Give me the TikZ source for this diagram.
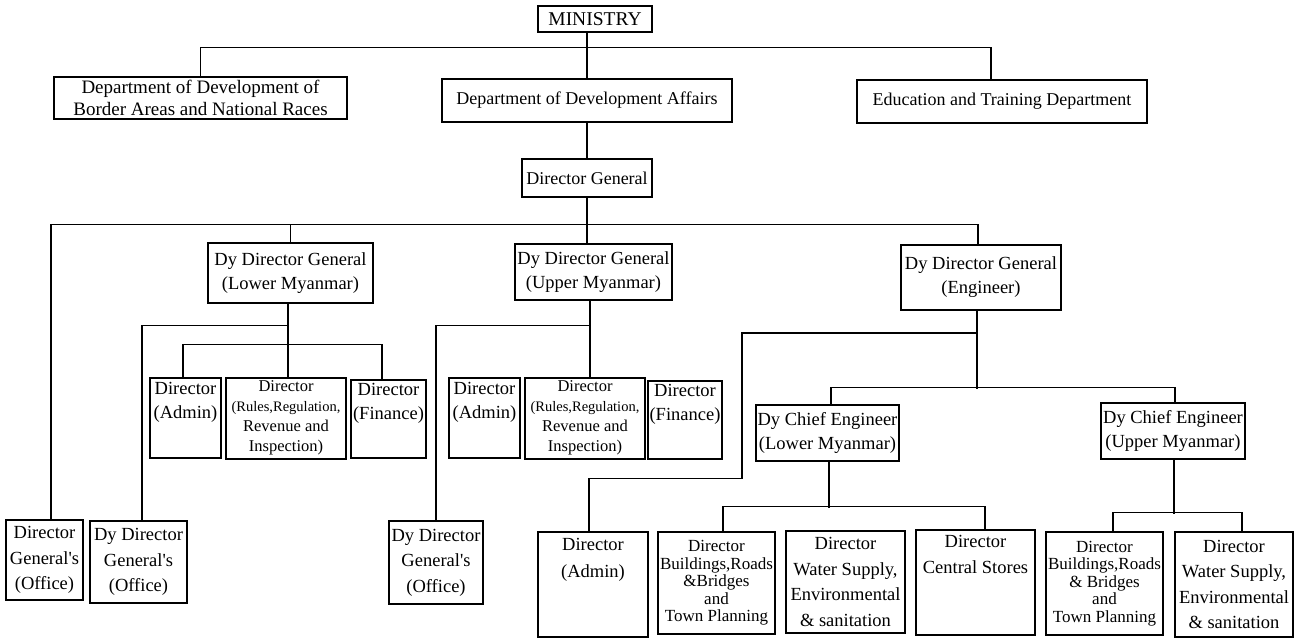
\documentclass[tikz,border=0pt]{standalone}
\usepackage{fontspec}
\setmainfont{Liberation Serif}
\usepackage{tikz}
\usetikzlibrary{calc}
\newcommand{\orgfont}{\fontsize{18.5}{24}\selectfont}
\newcommand{\apos}{\textquotesingle}

\begin{document}
\begin{tikzpicture}
    [
        x=1pt, y=-1pt,
        box/.style={rectangle,draw=black,line width=1.3pt,inner sep=1pt,align=center,font=\orgfont},
        toptxt/.style={anchor=north,align=center,inner sep=5pt,font=\orgfont},
        conn/.style={line width=1.3pt},
        wide/.style={font=\fontsize{18.5}{25.5}\selectfont},
        tight/.style={font=\fontsize{17}{17.5}\selectfont},
    ]
\useasboundingbox (0,0) rectangle (1299,638);

% top level
\node[box, minimum width=114, minimum height=26, font=\fontsize{19.5}{22}\selectfont] (ministry) at (595,19) {MINISTRY};
\node[box, minimum width=293, minimum height=42, inner sep=0pt, font=\fontsize{19}{21.5}\selectfont] (border) at (200.5,98)
    {Department of Development of\\Border Areas and National Races};
\node[box, minimum width=290, minimum height=43, font=\fontsize{18}{22}\selectfont] (devaff) at (587,100.5) {Department of Development Affairs};
\node[box, minimum width=290, minimum height=43, font=\fontsize{18}{22}\selectfont] (edu) at (1002,101.5) {Education and Training Department};
\node[box, minimum width=130, minimum height=38, font=\fontsize{18}{22}\selectfont] (dg) at (587,178) {Director General};

% deputy directors general
\node[box, minimum width=165, minimum height=60] (ddgL) at (290.5,273) {Dy Director General\\(Lower Myanmar)};
\node[box, minimum width=157, minimum height=56] (ddgU) at (593.5,272) {Dy Director General\\(Upper Myanmar)};
\node[box, minimum width=160, minimum height=65] (ddgE) at (981,277.5) {Dy Director General\\(Engineer)};

% directors
\node[box, minimum width=71, minimum height=80, label={[toptxt]north:{Director\\(Admin)}}] (adminL) at (185.5,418) {};
\node[box, minimum width=120, minimum height=81, label={[toptxt, inner sep=3pt, font=\fontsize{16.5}{20}\selectfont]north:{Director\\{\fontsize{14.5}{20}\selectfont(Rules,Regulation,}\\Revenue and\\Inspection)}}] (rulesL) at (286,418.5) {};
\node[box, minimum width=75, minimum height=78, label={[toptxt, inner sep=4pt]north:{Director\\(Finance)}}] (finL) at (388.5,419) {};
\node[box, minimum width=71, minimum height=80, label={[toptxt]north:{Director\\(Admin)}}] (adminU) at (484.5,418) {};
\node[box, minimum width=120, minimum height=81, label={[toptxt, inner sep=3pt, font=\fontsize{16.5}{20}\selectfont]north:{Director\\{\fontsize{14.5}{20}\selectfont(Rules,Regulation,}\\Revenue and\\Inspection)}}] (rulesU) at (585,418.5) {};
\node[box, minimum width=74, minimum height=78, label={[toptxt, inner sep=4pt]north:{Director\\(Finance)}}] (finU) at (685,420) {};

% chief engineers
\node[box, minimum width=143, minimum height=56] (ceL) at (827.5,433) {Dy Chief Engineer\\(Lower Myanmar)};
\node[box, minimum width=144, minimum height=56] (ceU) at (1173,431) {Dy Chief Engineer\\(Upper Myanmar)};

% bottom row
\node[box, wide, minimum width=77, minimum height=80] (dgo) at (44.5,560) {Director\\General\apos s\\(Office)};
\node[box, wide, minimum width=97, minimum height=82] (ddgoL) at (138.5,562) {Dy Director\\General\apos s\\(Office)};
\node[box, wide, minimum width=94, minimum height=83] (ddgoU) at (436,562.5) {Dy Director\\General\apos s\\(Office)};
\node[box, minimum width=110, minimum height=105, label={[toptxt, inner sep=7pt, font=\fontsize{18.5}{27}\selectfont]north:{Director\\(Admin)}}] (adminE) at (593,584.5) {};
\node[box, tight, minimum width=117, minimum height=102] (bldgL) at (716.5,583) {Director\\Buildings,Roads\\\&Bridges\\and\\Town Planning};
\node[box, wide, minimum width=119, minimum height=102] (waterL) at (845.5,582) {Director\\Water Supply,\\Environmental\\\& sanitation};
\node[box, minimum width=119, minimum height=105, label={[toptxt, inner sep=6pt, font=\fontsize{18.5}{26}\selectfont]north:{Director\\Central Stores}}] (storesL) at (975.5,582.5) {};
\node[box, tight, minimum width=117, minimum height=103] (bldgU) at (1104.5,583.5) {Director\\Buildings,Roads\\\& Bridges\\and\\Town Planning};
\node[box, wide, minimum width=118, minimum height=105] (waterU) at (1234,584.5) {Director\\Water Supply,\\Environmental\\\& sanitation};

% ministry level
\draw[conn] (devaff.north) -- (devaff.north |- ministry.south);
\draw[conn] (border.north) -- ++(0,-29) -| ([xshift=-11pt]edu.north);
\draw[conn] (devaff.south) -- (dg.north);
\draw[conn] (dg.south) -- (dg.south |- ddgU.north);

% director general bus
\draw[conn] ([xshift=6.5pt]dgo.north) |- ($(ddgE.north)+(-3,-20)$) -- ([xshift=-3pt]ddgE.north);
\draw[conn] (ddgL.north) -- ++(0,-18);

% lower myanmar
\draw[conn] ([xshift=-2.5pt]ddgL.south) -- ([xshift=2pt]rulesL.north);
\draw[conn] ([xshift=-2.5pt]adminL.north) -- ++(0,-33) -| ([xshift=-6.5pt]finL.north);
\draw[conn] ([xshift=3.5pt]ddgoL.north) |- ($(ddgL.south)+(-2.5,22)$);

% upper myanmar
\draw[conn] ([xshift=-3.5pt]ddgU.south) -- ([xshift=5pt]rulesU.north);
\draw[conn] (ddgoU.north) |- ($(ddgU.south)+(-3.5,25)$);

% engineer
\coordinate (ejog) at (742,333);
\draw[conn] ([xshift=-4pt]ddgE.south) -- ($(ddgE.south)+(-4,78)$);
\draw[conn] ([xshift=-4pt]adminE.north) -- ++(0,-53) -| (ejog) -- ($(ejog -| ddgE.south)+(-4,0)$);
\draw[conn] ([xshift=3.5pt]ceL.north) |- ($(ceU.north)+(2,-15)$) -- ([xshift=2pt]ceU.north);

\draw[conn] ([xshift=1.5pt]ceL.south) -- ++(0,46);
\draw[conn] ([xshift=6.5pt]bldgL.north) -- ++(0,-25) -| ([xshift=9.5pt]storesL.north);

\draw[conn] ([xshift=1pt]ceU.south) -- ++(0,54);
\draw[conn] ([xshift=8.5pt]bldgU.north) -- ++(0,-19) -| ([xshift=8pt]waterU.north);
\end{tikzpicture}
\end{document}
